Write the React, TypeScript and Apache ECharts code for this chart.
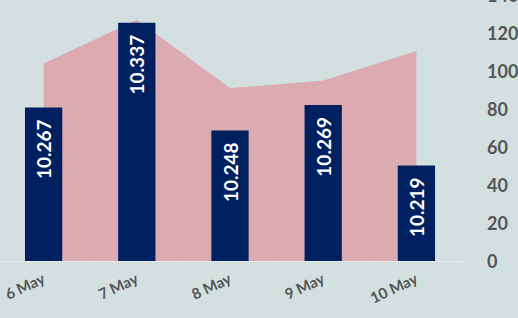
import React, { useEffect, useRef } from "react";
import * as echarts from "echarts";

const categories = ["6 May", "7 May", "8 May", "9 May", "10 May"];
const barValues = [10.267, 10.337, 10.248, 10.269, 10.219];
const areaValues = [104, 127, 91, 95, 110.5];
const yTicks = [0, 20, 40, 60, 80, 100, 120, 140];

export default function App() {
  const ref = useRef<HTMLDivElement>(null);
  useEffect(() => {
    const chart = echarts.init(ref.current!, undefined, { renderer: "svg" });
    chart.setOption({
      animation: false,
      backgroundColor: "#d4e0e0",
      grid: {
        left: -3,
        right: 55,
        top: -5,
        bottom: 57,
        containLabel: false,
        outerBoundsMode: "none",
      },
      xAxis: {
        type: "category",
        data: categories,
        boundaryGap: true,
        axisLine: { show: true, lineStyle: { color: "#e6eaea", width: 1 } },
        axisTick: { show: true, length: 4, lineStyle: { color: "#e6eaea" } },
        axisLabel: {
          rotate: 25,
          color: "#555555",
          fontFamily: "Lato",
          fontWeight: "bold",
          fontSize: 15,
          margin: 16,
        },
      },
      yAxis: [
        {
          type: "value",
          position: "right",
          min: yTicks[0],
          max: yTicks[yTicks.length - 1],
          interval: 20,
          splitLine: { show: false },
          axisLine: { show: false },
          axisTick: { show: false },
          axisLabel: {
            color: "#555555",
            fontFamily: "Lato",
            fontWeight: "bold",
            fontSize: 18,
            margin: 24,
            align: "left",
          },
        },
        {
          type: "value",
          show: false,
          min: 10.14,
          max: 10.36,
          splitLine: { show: false },
        },
      ],
      series: [
        {
          type: "line",
          data: areaValues,
          yAxisIndex: 0,
          symbol: "none",
          lineStyle: { width: 0 },
          areaStyle: { color: "#dcaab1", opacity: 1 },
          z: 1,
        },
        {
          type: "bar",
          data: barValues,
          yAxisIndex: 1,
          barWidth: "40%",
          itemStyle: { color: "#00205f" },
          z: 2,
          label: {
            show: true,
            position: "insideTop",
            rotate: 90,
            align: "right",
            verticalAlign: "middle",
            distance: 12,
            color: "#ffffff",
            fontFamily: "Lato",
            fontWeight: "bold",
            fontSize: 19,
            formatter: (p: any) => p.value.toFixed(3),
          },
        },
      ],
    });
    return () => chart.dispose();
  }, []);
  return <div ref={ref} style={{ width: 518, height: 318, position: "absolute", left: 0, top: 0 }} />;
}
